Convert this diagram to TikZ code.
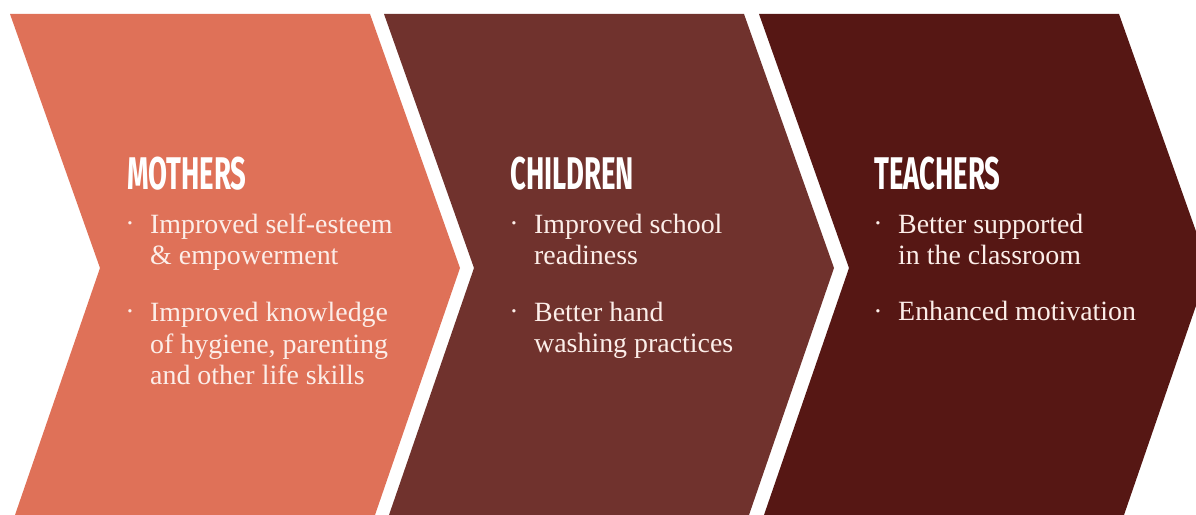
\documentclass[tikz,border=0pt]{standalone}
\usepackage{fontspec}
\setmainfont{Liberation Serif}
\newfontfamily\headfont{Fira Sans}
\definecolor{salmon}{HTML}{DF7158}
\definecolor{brownred}{HTML}{70322D}
\definecolor{darkred}{HTML}{561714}
\definecolor{paletext}{HTML}{FCEEE9}
\newcommand{\headtext}[1]{\scalebox{0.6}[1]{#1}}
\tikzset{
  heading/.style={anchor=base west, inner sep=0pt, text=white,
    font=\headfont\bfseries\fontsize{46}{46}\selectfont},
  point/.style={anchor=base west, inner sep=0pt, align=left, text=paletext,
    font=\fontsize{28}{32}\selectfont},
  dot/.style={anchor=base, inner sep=0pt, text=paletext, font=\fontsize{28}{32}\selectfont}
}
\begin{document}
\begin{tikzpicture}[x=1bp, y=-1bp]
    \useasboundingbox (0,0) rectangle (1196,515);
    \clip (0,0) rectangle (1196,515);

    % Chevrons - one per group
    \foreach \x/\col in {10/salmon, 384/brownred, 759/darkred}
        \fill[\col] (\x,14) -- ++(360,0) -- ++(90,254) -- ++(-85,247) -- ++(-360,0) -- ++(85,-247) -- cycle;

    % Mothers (multi-line points sit on their last baseline)
    \node[heading] (mothers) at (127,190) {\headtext{MOTHERS}};
    \node[dot] (mdot1) at (130,233) {·};
    \node[point] (mitem1) at (150,265) {Improved self-esteem\\\& empowerment};
    \node[dot] (mdot2) at (130,321) {·};
    \node[point] (mitem2) at (150,385) {Improved knowledge\\of hygiene, parenting\\and other life skills};

    % Children
    \node[heading] (children) at (510,190) {\headtext{CHILDREN}};
    \node[dot] (cdot1) at (514,233) {·};
    \node[point] (citem1) at (534,265) {Improved school\\readiness};
    \node[dot] (cdot2) at (514,321) {·};
    \node[point] (citem2) at (534,353) {Better hand\\washing practices};

    % Teachers
    \node[heading] (teachers) at (874,190) {\headtext{TEACHERS}};
    \node[dot] (tdot1) at (878,233) {·};
    \node[point] (titem1) at (898,265) {Better supported\\in the classroom};
    \node[dot] (tdot2) at (878,321) {·};
    \node[point] (titem2) at (898,321) {Enhanced motivation};
\end{tikzpicture}
\end{document}
